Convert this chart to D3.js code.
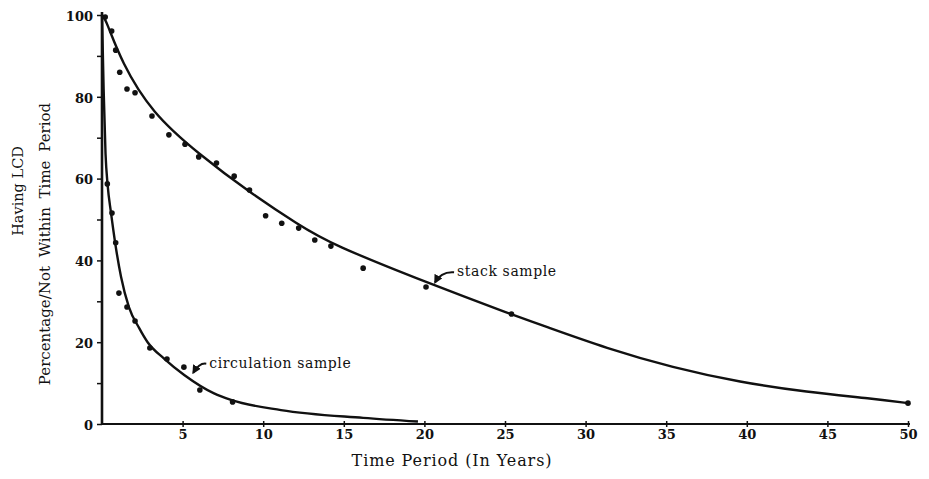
<!DOCTYPE html>
<html>
<head>
<meta charset="utf-8">
<script src="https://cdn.jsdelivr.net/npm/d3@7"></script>
<style>
  body { margin: 0; background: #fff; }
  svg { display: block; }
  text { font-family: "DejaVu Serif", "Liberation Serif", serif; fill: #111; }
</style>
</head>
<body>
<svg id="chart" width="929" height="479"></svg>
<script>
// observed points, stack sample (years, percent)
const stackX = [0.2, 0.6, 0.85, 1.1, 1.55, 2.05, 3.1, 4.15, 5.15, 6.0, 7.1, 8.2, 9.15, 10.15, 11.15, 12.2, 13.2, 14.2, 16.2, 20.1, 25.4, 50];
const stackY = [99.5, 96.1, 91.4, 86, 81.9, 81, 75.3, 70.7, 68.4, 65.3, 63.8, 60.6, 57.2, 50.9, 49.1, 47.9, 45, 43.5, 38.1, 33.5, 26.9, 5.1];

// observed points, circulation sample
const circX = [0.33, 0.62, 0.85, 1.05, 1.55, 2.05, 2.97, 4.03, 5.08, 6.07, 8.1];
const circY = [58.7, 51.6, 44.3, 32, 28.6, 25.2, 18.6, 15.9, 13.9, 8.3, 5.4];

// fitted curves as drawn in the picture
const stackFitX = [0, 0.25, 1.2, 3.1, 6, 9.2, 12.2, 14.2, 20.2, 25.4, 27.4, 31.3, 35.4, 39.6, 43.7, 47.8, 50];
const stackFitY = [100, 98.8, 88.5, 76, 66, 56.5, 48.7, 44, 34.5, 26.8, 24, 18.5, 13.8, 10.2, 7.8, 6.2, 5.1];
const circFitX = [0, 0.1, 0.22, 0.35, 0.56, 0.82, 1.18, 1.67, 2.3, 2.83, 3.85, 5.1, 6.95, 8, 11.1, 16.2, 19.6];
const circFitY = [100, 82, 66, 58.4, 51.6, 44.2, 36, 28.6, 23.5, 20, 16, 12, 7.5, 5.9, 3.4, 1.5, 0.6];

const xTicks = [5, 10, 15, 20, 25, 30, 35, 40, 45, 50];
const yTicks = [0, 10, 20, 30, 40, 50, 60, 70, 80, 90, 100];
const yLabelled = [0, 20, 40, 60, 80, 100];

const svg = d3.select("#chart");

const x = d3.scaleLinear().domain([0, 50]).range([102, 908]);
const y = d3.scaleLinear().domain([0, 100]).range([424, 15]);

// axes
const xAxis = svg.append("g")
    .attr("transform", `translate(0, ${y(0)})`)
    .call(d3.axisBottom(x).tickValues(xTicks).tickSize(3).tickPadding(3));
xAxis.select(".domain").attr("stroke", "#111").attr("stroke-width", 2.2)
    .attr("d", `M${x(0)},0H${x(50) + 2}`);
xAxis.selectAll(".tick line").attr("stroke", "#111").attr("stroke-width", 1.5).attr("y1", -3);
xAxis.selectAll(".tick text")
    .style("font-family", "DejaVu Serif").style("font-size", "13px").style("font-weight", "bold")
    .attr("fill", "#111");

const yAxis = svg.append("g")
    .attr("transform", `translate(${x(0)}, 0)`)
    .call(d3.axisLeft(y).tickValues(yTicks).tickSize(5).tickPadding(4)
        .tickFormat(d => yLabelled.includes(d) ? d : ""));
yAxis.select(".domain").attr("stroke", "#111").attr("stroke-width", 2.6)
    .attr("d", `M0,${y(0)}V${y(100) - 3}`);
yAxis.selectAll(".tick line").attr("stroke", "#111").attr("stroke-width", 1.5);
yAxis.selectAll(".tick text")
    .style("font-family", "DejaVu Serif").style("font-size", "13px").style("font-weight", "bold")
    .attr("fill", "#111").attr("dy", "0.4em");

// axis titles
svg.append("text")
    .attr("x", 452).attr("y", 466)
    .attr("text-anchor", "middle")
    .style("font-size", "16px")
    .style("letter-spacing", "0.9px")
    .text("Time Period (In Years)");

svg.append("text")
    .attr("transform", "translate(23, 191) rotate(-90)")
    .attr("text-anchor", "middle")
    .style("font-size", "14.5px")
    .text("Having LCD");

svg.append("text")
    .attr("transform", "translate(50, 244) rotate(-90)")
    .attr("text-anchor", "middle")
    .style("font-size", "15px")
    .style("word-spacing", "4px")
    .text("Percentage/Not Within Time Period");

// fitted curves
const smooth = d3.line().x(d => x(d[0])).y(d => y(d[1])).curve(d3.curveBasis);
const steep = d3.line().x(d => x(d[0])).y(d => y(d[1])).curve(d3.curveMonotoneX);

svg.append("path")
    .attr("d", smooth(d3.zip(stackFitX, stackFitY)))
    .attr("fill", "none").attr("stroke", "#111").attr("stroke-width", 2.4);
svg.append("path")
    .attr("d", steep(d3.zip(circFitX, circFitY)))
    .attr("fill", "none").attr("stroke", "#111").attr("stroke-width", 2.4);

// data points
svg.append("g").selectAll("circle")
    .data(d3.zip(stackX, stackY).concat(d3.zip(circX, circY)))
    .enter().append("circle")
    .attr("cx", d => x(d[0]))
    .attr("cy", d => y(d[1]))
    .attr("r", 2.8)
    .attr("fill", "#111");

// annotations with little arrows
svg.append("defs").append("marker")
    .attr("id", "head")
    .attr("viewBox", "0 0 10 10")
    .attr("refX", 8).attr("refY", 5)
    .attr("markerWidth", 4.5).attr("markerHeight", 4.5)
    .attr("orient", "auto")
    .append("path").attr("d", "M0,0L10,5L0,10z").attr("fill", "#111");

const notes = [
    { label: "stack sample", tip: [20.6, 34.4], dx: 20, dy: -11 },
    { label: "circulation sample", tip: [5.6, 12.3], dx: 14, dy: -10 }
];
notes.forEach(n => {
    const tx = x(n.tip[0]), ty = y(n.tip[1]);
    svg.append("path")
        .attr("d", `M ${tx + n.dx} ${ty + n.dy} Q ${tx + 7} ${ty + n.dy - 1} ${tx + 1} ${ty - 1}`)
        .attr("fill", "none").attr("stroke", "#111").attr("stroke-width", 2)
        .attr("marker-end", "url(#head)");
    svg.append("text")
        .attr("x", tx + n.dx + 3).attr("y", ty + n.dy + 4)
        .style("font-size", "14px")
        .style("letter-spacing", "0.6px")
        .text(n.label);
});
</script>
</body>
</html>
